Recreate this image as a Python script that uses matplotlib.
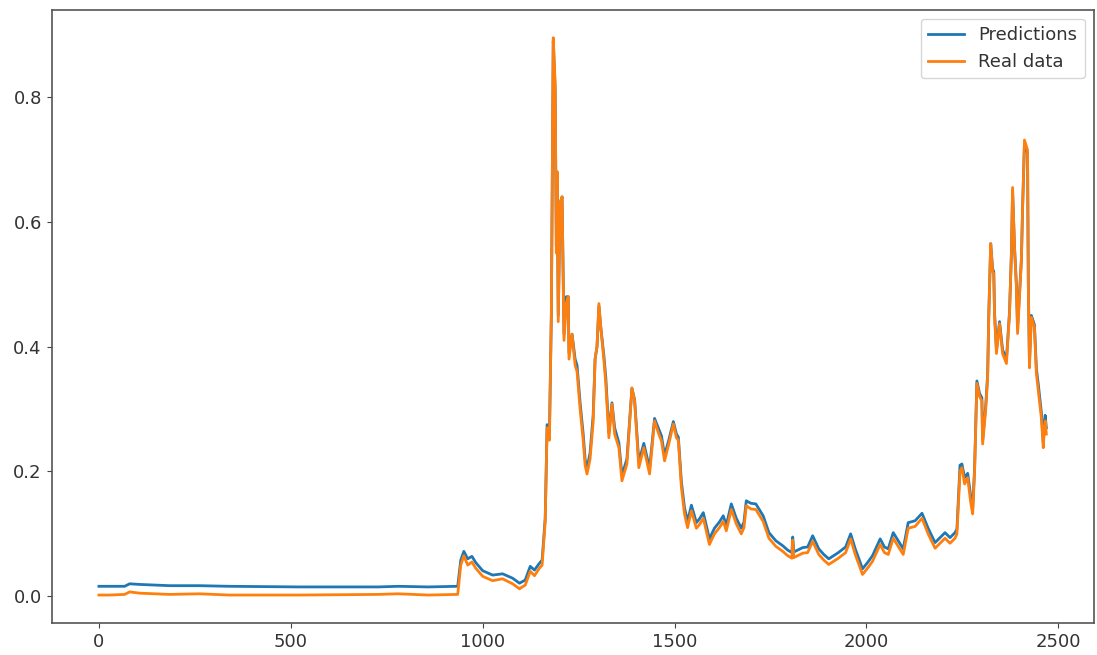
import matplotlib.pyplot as plt

# x positions (sample index)
days = [0, 28, 67, 80, 106, 184, 262, 339, 521, 728, 780, 858, 935,
        943, 951, 961, 972, 982, 1000, 1026, 1052, 1078, 1096, 1111, 1124, 1135, 1148, 1155,
        1163, 1168, 1174, 1179, 1184, 1189, 1192, 1194, 1197, 1202, 1207, 1212, 1218, 1223,
        1225, 1233, 1241, 1246, 1254, 1262, 1267, 1272, 1280, 1288, 1293, 1298, 1303, 1308,
        1316, 1321, 1329, 1337, 1344, 1355, 1363, 1376, 1389, 1396, 1407, 1420, 1435, 1448,
        1459, 1466, 1474, 1485, 1497, 1505, 1510, 1518, 1526, 1534, 1544, 1557, 1565, 1575,
        1591, 1604, 1617, 1627, 1635, 1648, 1661, 1674, 1681, 1687, 1699, 1712, 1731, 1746,
        1764, 1782, 1795, 1806, 1808, 1811, 1834, 1847, 1860, 1876, 1889, 1902, 1927, 1946,
        1959, 1971, 1990, 2003, 2016, 2036, 2047, 2057, 2070, 2083, 2096, 2109, 2127, 2145,
        2161, 2179, 2192, 2205, 2218, 2231, 2236, 2244, 2249, 2256, 2264, 2272, 2277, 2282,
        2288, 2295, 2301, 2303, 2311, 2316, 2319, 2324, 2329, 2332, 2334, 2339, 2347, 2355,
        2365, 2373, 2378, 2381, 2386, 2391, 2394, 2399, 2404, 2407, 2412, 2420, 2422, 2425,
        2430, 2438, 2443, 2448, 2456, 2461, 2464, 2466, 2469]

real = [.002, .002, .003, .007, .005, .003, .004, .002, .002, .003, .004, .002, .003,
        .05, .065, .05, .055, .045, .032, .025, .028, .02, .012, .018, .04, .033, .045, .05,
        .12, .27, .25, .45, .895, .82, .55, .68, .44, .63, .64, .41, .47, .48,
        .38, .42, .37, .36, .30, .25, .21, .196, .22, .28, .38, .40, .469, .43,
        .378, .34, .254, .308, .26, .238, .185, .212, .334, .313, .206, .238, .196, .281,
        .26, .249, .217, .244, .276, .254, .25, .174, .132, .11, .137, .109, .115, .125,
        .083, .10, .11, .12, .105, .139, .116, .10, .11, .145, .14, .139, .12, .093,
        .08, .072, .065, .061, .09, .062, .069, .07, .088, .067, .058, .051, .061, .07,
        .092, .067, .035, .045, .056, .083, .07, .067, .093, .08, .067, .109, .112, .125,
        .10, .077, .085, .093, .085, .093, .10, .20, .206, .18, .19, .15, .132, .20,
        .341, .32, .313, .244, .30, .35, .45, .565, .52, .517, .45, .389, .437, .389,
        .373, .453, .55, .655, .56, .495, .421, .48, .538, .62, .731, .715, .50, .366,
        .447, .431, .357, .33, .286, .238, .27, .281, .26]

pred = [.016, .016, .016, .02, .019, .017, .017, .016, .015, .015, .016, .015, .016,
        .058, .072, .06, .064, .054, .041, .034, .036, .029, .021, .026, .048, .042, .053, .058,
        .125, .275, .26, .45, .89, .81, .56, .68, .45, .63, .64, .42, .48, .48,
        .39, .42, .38, .37, .31, .26, .22, .205, .23, .29, .38, .40, .465, .43,
        .385, .35, .262, .31, .27, .246, .194, .22, .333, .315, .215, .245, .205, .285,
        .268, .257, .226, .25, .28, .26, .255, .183, .142, .12, .146, .118, .124, .134,
        .092, .109, .119, .129, .114, .148, .125, .109, .119, .153, .149, .148, .129, .102,
        .089, .081, .074, .07, .095, .071, .078, .079, .097, .076, .067, .06, .07, .079,
        .1, .076, .044, .054, .065, .092, .079, .076, .102, .089, .076, .118, .121, .133,
        .109, .086, .094, .102, .094, .102, .108, .21, .212, .19, .197, .16, .141, .205,
        .345, .325, .318, .25, .305, .355, .45, .565, .525, .52, .455, .395, .44, .395,
        .38, .455, .55, .65, .56, .5, .43, .485, .54, .62, .725, .71, .505, .375,
        .45, .435, .365, .34, .295, .247, .278, .29, .27]

plt.rcParams['font.size'] = 13
plt.rcParams['text.color'] = '#333333'
plt.rcParams['xtick.color'] = '#444444'
plt.rcParams['ytick.color'] = '#444444'
plt.rcParams['xtick.labelcolor'] = '#333333'
plt.rcParams['ytick.labelcolor'] = '#333333'
plt.rcParams['axes.edgecolor'] = '#555555'
plt.rcParams['axes.linewidth'] = 1.2

plt.figure(figsize=(10.97, 6.55), dpi=100)
plt.plot(days, pred, color='#1f77b4', linewidth=2.0, label='Predictions')
plt.plot(days, real, color='#ff7f0e', linewidth=2.0, label='Real data')
plt.legend(loc='upper right')
plt.subplots_adjust(left=0.047, right=0.997, top=0.985, bottom=0.049)
plt.savefig('out.png')
